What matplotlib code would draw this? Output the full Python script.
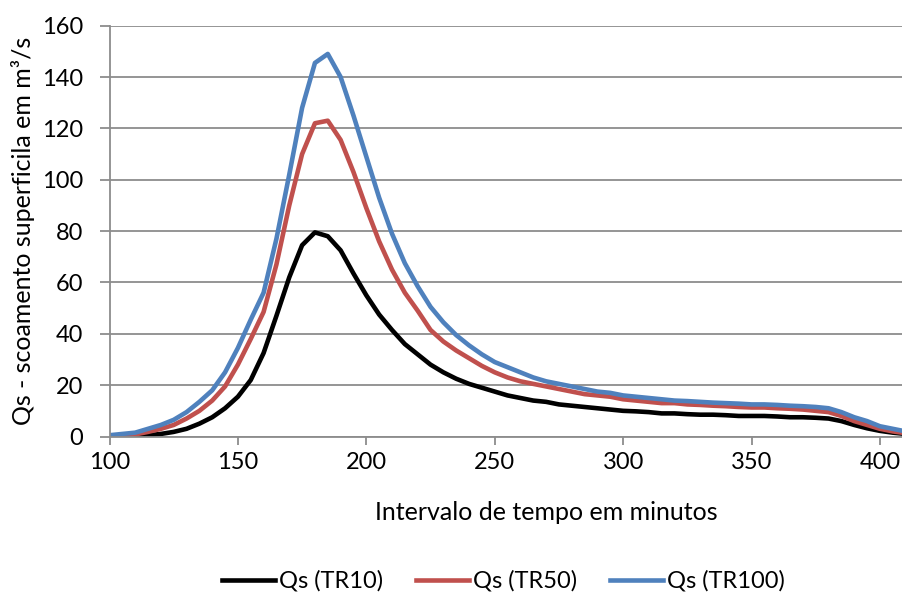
import numpy as np
import matplotlib
matplotlib.use("Agg")
from matplotlib import pyplot as plt

plt.rcParams['font.family'] = ['Lato', 'DejaVu Sans']

# time in minutes (5 minute steps)
tempo = list(range(100, 415, 5))

qs_tr10 = [0, 0, 0.2, 0.5, 1, 1.8, 3, 5, 7.5, 11,
           15.5, 22, 32.5, 47, 62, 74.5, 79.5, 78, 72.5, 63.5,
           55, 47.5, 41.5, 36, 32, 28, 25, 22.5, 20.5, 19,
           17.5, 16, 15, 14, 13.5, 12.5, 12, 11.5, 11, 10.5,
           10, 9.8, 9.5, 9, 9, 8.7, 8.5, 8.5, 8.3, 8,
           8, 8, 7.8, 7.5, 7.5, 7.3, 7, 6, 4.5, 3.2,
           2.2, 1.5, 1]

qs_tr50 = [0, 0.2, 0.8, 1.8, 3, 4.5, 7, 10, 14, 19.5,
           28, 38, 48.5, 67, 90, 110, 122, 123, 115.5, 103,
           89, 76, 65, 56, 49, 41.5, 37, 33.5, 30.5, 27.5,
           25, 23, 21.5, 20.5, 19.5, 18.5, 17.5, 16.5, 16, 15.5,
           14.5, 14, 13.5, 13, 13, 12.5, 12.3, 12, 11.8, 11.5,
           11.3, 11.3, 11, 10.8, 10.5, 10, 9.5, 8, 6, 4.5,
           3, 2, 1.3]

qs_tr100 = [0.5, 1, 1.5, 3, 4.5, 6.5, 9.5, 13.5, 18, 25,
            34.5, 45.5, 56, 77, 102, 128, 145.5, 149, 140, 125,
            109, 93, 79, 67.5, 58.5, 50.5, 44.5, 39.5, 35.5, 32,
            29, 27, 25, 23, 21.5, 20.5, 19.5, 18.5, 17.5, 17,
            16, 15.5, 15, 14.5, 14, 13.8, 13.5, 13.2, 13, 12.8,
            12.5, 12.5, 12.3, 12, 11.8, 11.5, 11, 9.5, 7.5, 6,
            4, 3, 2]

fig = plt.figure(figsize=(9.02, 5.96), dpi=100)
ax = fig.add_axes([0.1214, 0.2676, 0.8786, 0.6893])

ax.plot(tempo, qs_tr10, color='black', lw=3.3, label='Qs (TR10)')
ax.plot(tempo, qs_tr50, color='#C0504D', lw=3.3, label='Qs (TR50)')
ax.plot(tempo, qs_tr100, color='#4F81BD', lw=3.3, label='Qs (TR100)')

ax.set_xlim(100, 408.6)
ax.set_ylim(0, 160)
ax.set_xticks([100, 150, 200, 250, 300, 350, 400])
ax.set_yticks(np.arange(0, 161, 20))
ax.yaxis.grid(True, color='#8C8C8C', lw=1.3)
ax.set_axisbelow(True)

for s in ['top', 'right']:
    ax.spines[s].set_visible(False)
for s in ['left', 'bottom']:
    ax.spines[s].set_color('#8C8C8C')
    ax.spines[s].set_linewidth(1.3)
ax.tick_params(axis='both', colors='#8C8C8C', width=1.3,
               labelcolor='black', labelsize=17)
ax.tick_params(axis='x', length=6, pad=5)
ax.tick_params(axis='y', length=7, pad=12)

ax.set_xlabel('Intervalo de tempo em minutos', fontsize=18)
ax.xaxis.set_label_coords(0.551, -0.158)
ax.set_ylabel('Qs - scoamento superficila em m³/s', fontsize=18, labelpad=5)

fig.legend(loc='center', bbox_to_anchor=(0.558, 0.025), ncol=3, frameon=False,
           fontsize=17, handlelength=2.25, columnspacing=1.4, handletextpad=0.15)

fig.savefig('out.png', dpi=100)
